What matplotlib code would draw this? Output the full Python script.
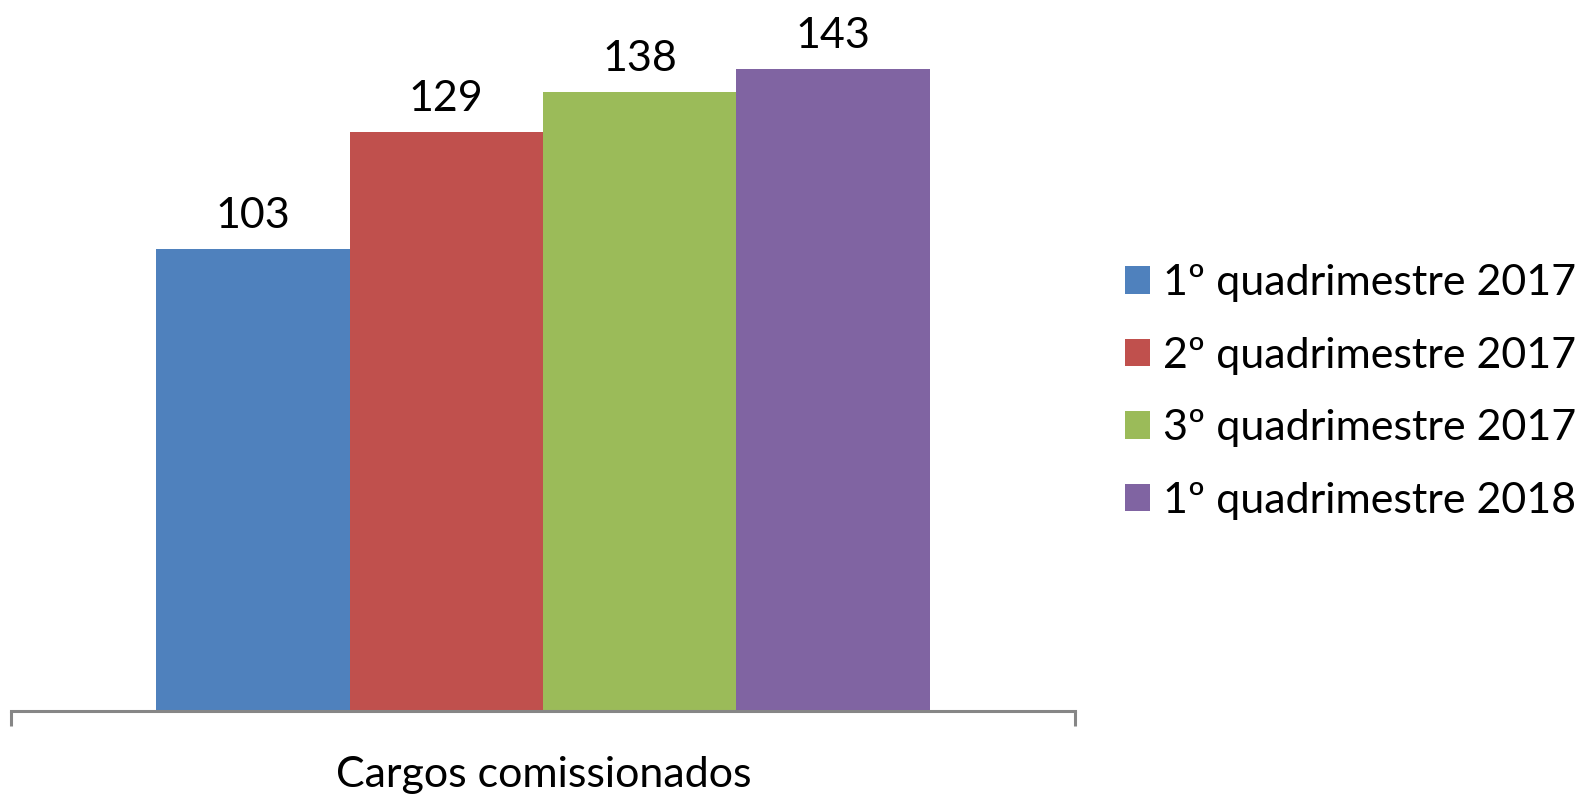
import matplotlib
matplotlib.use('Agg')
import matplotlib.pyplot as plt

plt.rcParams['font.family'] = ['Lato', 'DejaVu Sans']

category = 'Cargos comissionados'
series = ['1º quadrimestre 2017', '2º quadrimestre 2017',
          '3º quadrimestre 2017', '1º quadrimestre 2018']
values = [103, 129, 138, 143]
colors = ['#4F81BD', '#C0504D', '#9BBB59', '#8064A2']

W, H = 1594, 795
fs = 31
fig = plt.figure(figsize=(W / 100, H / 100), dpi=100)
ax = fig.add_axes([11 / W, (H - 711) / H, (1075 - 11) / W, 711 / H])

bw = 0.727 / len(values)
start = -bw * len(values) / 2
for i, (name, v, c) in enumerate(zip(series, values, colors)):
    x = start + bw * (i + 0.5)
    ax.bar(x, v, width=bw, color=c, label=name)
    ax.annotate(str(v), (x, v), xytext=(0, 10), textcoords='offset points',
                ha='center', va='bottom', fontsize=fs)

ax.set_xlim(-0.5, 0.5)
ax.set_ylim(0, 158.4)
for s in ['top', 'right', 'left']:
    ax.spines[s].set_visible(False)
ax.spines['bottom'].set_color('#868686')
ax.spines['bottom'].set_linewidth(2.2)
ax.set_yticks([])
ax.set_xticks([-0.5, 0.5])
ax.set_xticklabels([])
ax.tick_params(axis='x', length=11, width=2.2, color='#868686', direction='out')
fig.text(544 / W, 1 - 775 / H, category, ha='center', va='center', fontsize=fs)

fig.legend(loc='center left', bbox_to_anchor=(1103 / W, 1 - 392 / H),
           frameon=False, fontsize=fs, handlelength=0.6, handleheight=0.6,
           handletextpad=0.3, labelspacing=0.8, borderpad=0)

fig.savefig('out.png', dpi=100)
